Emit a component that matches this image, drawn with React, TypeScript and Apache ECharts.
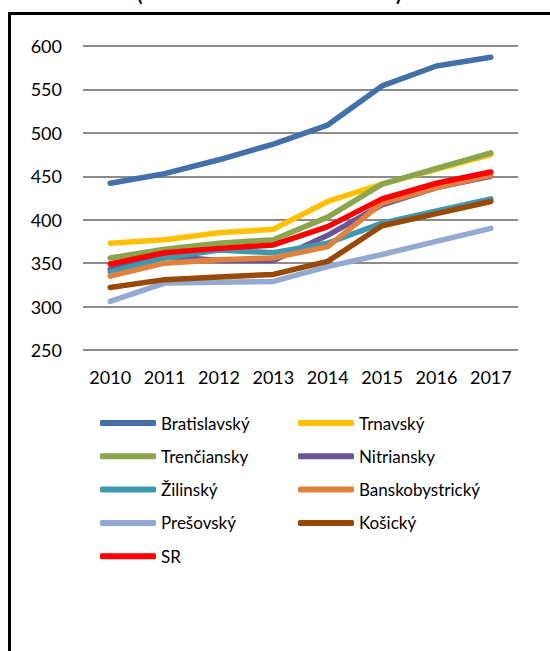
import React, { useEffect, useRef } from "react";
import * as echarts from "echarts";

const years = ["2010", "2011", "2012", "2013", "2014", "2015", "2016", "2017"];
const bratislavsky = [442, 453, 469, 487, 509, 554, 577, 587];
const trnavsky = [373, 377, 385, 389, 421, 441, 458, 475];
const trenciansky = [356, 366, 373, 377, 403, 441, 459, 477];
const nitriansky = [343, 358, 353, 353, 382, 417, 437, 450];
const zilinsky = [340, 356, 365, 362, 373, 396, 410, 424];
const banskobystricky = [335, 350, 354, 356, 369, 419, 437, 451];
const presovsky = [306, 327, 328, 329, 346, 360, 375, 390];
const kosicky = [322, 331, 334, 337, 352, 393, 407, 421];
const sr = [349, 362, 367, 371, 392, 424, 442, 455];

const names = ["Bratislavský", "Trnavský", "Trenčiansky", "Nitriansky", "Žilinský", "Banskobystrický", "Prešovský", "Košický", "SR"];
const values = [bratislavsky, trnavsky, trenciansky, nitriansky, zilinsky, banskobystricky, presovsky, kosicky, sr];
const colors = ["#4270A9", "#FFC000", "#8AA64C", "#6B5596", "#3E98B0", "#E0823D", "#93A9CF", "#984807", "#FF0000"];

const FONT = "Lato";

export default function App() {
  const ref = useRef<HTMLDivElement>(null);
  useEffect(() => {
    if (!ref.current) return;
    const chart = echarts.init(ref.current, null, { renderer: "svg" });
    const legendCommon = {
      orient: "vertical" as const,
      padding: 0,
      itemWidth: 56,
      itemHeight: 6,
      icon: "roundRect",
      itemGap: 13.3,
      textStyle: { fontFamily: FONT, fontSize: 17, color: "#000", lineHeight: 20 },
    };
    chart.setOption({
      animation: false,
      backgroundColor: "#fff",
      grid: { left: 83, right: 32, top: 46, bottom: 301 },
      xAxis: {
        type: "category",
        data: years,
        boundaryGap: true,
        axisLine: { show: false },
        axisTick: { show: false },
        axisLabel: { fontFamily: FONT, fontSize: 18, color: "#000", margin: 18 },
      },
      yAxis: {
        type: "value",
        min: 250,
        max: 600,
        interval: 50,
        axisLine: { show: false },
        axisTick: { show: false },
        axisLabel: { fontFamily: FONT, fontSize: 18, color: "#000", margin: 21 },
        splitLine: { lineStyle: { color: "#8c8c8c", width: 2 } },
      },
      legend: [
        { ...legendCommon, left: 100, top: 413, data: [names[0], names[2], names[4], names[6], names[8]] },
        { ...legendCommon, left: 298, top: 413, data: [names[1], names[3], names[5], names[7]] },
      ],
      graphic: [
        { type: "rect", shape: { x: 9.5, y: 13.5, width: 700, height: 800 }, style: { fill: "none", stroke: "#000", lineWidth: 3 } },
        { type: "text", x: 137, y: 3, style: { text: "(", font: "bold 20px Lato", fill: "#000", verticalAlign: "bottom" } },
        { type: "text", x: 396, y: 3, style: { text: ")", font: "bold 20px Lato", fill: "#000", verticalAlign: "bottom" } },
      ],
      series: names.map((n, i) => ({
        name: n,
        type: "line",
        data: values[i],
        showSymbol: false,
        symbol: "none",
        color: colors[i],
        lineStyle: { width: 5.5, color: colors[i], cap: "round", join: "round" },
      })),
    });
    return () => chart.dispose();
  }, []);
  return <div ref={ref} style={{ position: "fixed", left: 0, top: 0, width: 550, height: 651 }} />;
}
